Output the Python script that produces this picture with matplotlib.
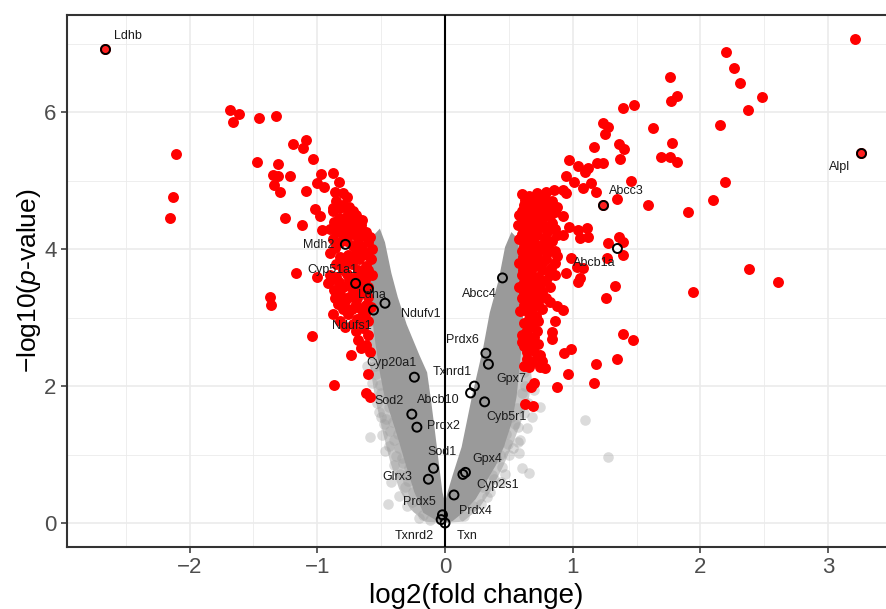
import matplotlib
matplotlib.use("Agg")
import matplotlib.pyplot as plt
from matplotlib.ticker import MultipleLocator

plt.rcParams['font.family'] = ['Liberation Sans', 'DejaVu Sans']
plt.rcParams['mathtext.fontset'] = 'custom'
plt.rcParams['mathtext.rm'] = 'Liberation Sans'
plt.rcParams['mathtext.it'] = 'Liberation Sans:italic'

# dense, non-significant genes (outline of the packed gray cloud)
left_arm_x = [0.0, -0.08, -0.17, -0.24, -0.31, -0.37, -0.43, -0.48, -0.52, -0.56, -0.58, -0.58,
              -0.56, -0.51, -0.47, -0.42, -0.37, -0.30, -0.20, -0.14, -0.11, -0.08, -0.05, -0.02, 0.0]
left_arm_y = [0.0, 0.05, 0.15, 0.45, 0.87, 1.25, 1.60, 1.90, 2.30, 2.82, 3.30, 3.90,
              4.20, 4.30, 4.10, 3.65, 3.30, 2.90, 2.45, 2.20, 1.80, 1.36, 0.90, 0.45, 0.30]
right_arm_x = [0.0, 0.02, 0.06, 0.13, 0.21, 0.30, 0.35, 0.42, 0.47, 0.52, 0.57, 0.60,
               0.61, 0.60, 0.58, 0.56, 0.52, 0.46, 0.40, 0.33, 0.24, 0.14, 0.06, 0.0]
right_arm_y = [0.30, 0.45, 0.70, 1.11, 1.84, 2.57, 3.07, 3.55, 4.03, 4.25, 4.15, 3.70,
               3.00, 2.57, 2.20, 1.84, 1.45, 1.11, 0.85, 0.63, 0.35, 0.15, 0.03, 0.0]

# sparser halo around the packed cloud
left_halo_x = [0.0, -0.16, -0.27, -0.36, -0.43, -0.49, -0.55, -0.59, -0.61, -0.61, -0.58,
               -0.52, -0.40, -0.25, -0.10, 0.0]
left_halo_y = [0.0, 0.02, 0.20, 0.50, 0.90, 1.35, 1.85, 2.35, 2.80, 3.40, 3.60,
               2.30, 1.50, 0.80, 0.30, 0.10]
right_halo_x = [0.0, 0.14, 0.26, 0.37, 0.46, 0.54, 0.61, 0.66, 0.68, 0.66, 0.62, 0.60,
                0.52, 0.38, 0.20, 0.0]
right_halo_y = [0.0, 0.02, 0.20, 0.50, 0.85, 1.20, 1.55, 1.85, 2.10, 2.45, 2.80, 3.20,
                1.70, 1.00, 0.40, 0.10]

# scattered non-significant genes
gray_x = [-0.59, -0.45, -0.17, -0.36, -0.55, -0.57, -0.61, -0.58, -0.52, -0.48, -0.44, -0.40,
          -0.31, -0.35, -0.26, -0.50, -0.46, -0.40, -0.49, -0.38, -0.29, -0.22, -0.54, -0.56,
          -0.53, -0.43, -0.33, -0.12, -0.20, -0.30, -0.56, -0.59, -0.44, -0.36, -0.28, -0.51,
          -0.47, -0.42, -0.34, -0.25, -0.41, -0.50, -0.55, -0.37, -0.30, -0.45,
          0.74, 1.10, 1.28, 0.60, 0.66, 0.57, 0.59, 0.42, 0.64, 0.28, 0.37, 0.45, 0.62, 0.68,
          0.55, 0.50, 0.44, 0.35, 0.63, 0.62, 0.56, 0.48, 0.40, 0.30, 0.22, 0.15, 0.53, 0.60,
          0.65, 0.47, 0.33, 0.58, 0.52, 0.43, 0.38, 0.57, 0.49, 0.64, 0.70]
gray_y = [1.26, 0.28, 0.12, 0.40, 2.63, 2.04, 2.30, 2.95, 1.62, 1.45, 1.12, 0.85,
          0.52, 0.72, 0.30, 1.90, 1.52, 1.22, 1.28, 0.98, 0.62, 0.22, 2.18, 2.45,
          1.75, 1.35, 0.88, 0.05, 0.08, 0.25, 3.10, 3.40, 1.70, 1.10, 0.80, 2.02,
          1.05, 0.60, 0.95, 0.45, 1.48, 1.55, 2.30, 1.30, 0.70, 1.85,
          1.69, 1.50, 0.96, 0.80, 0.73, 1.18, 1.22, 1.16, 1.39, 0.28, 0.70, 0.82, 1.60, 1.55,
          1.45, 1.00, 0.60, 0.45, 2.00, 2.20, 1.68, 1.30, 0.95, 0.52, 0.25, 0.10, 1.10, 1.90,
          1.75, 0.72, 0.38, 1.02, 1.55, 1.00, 0.65, 1.40, 1.15, 2.40, 1.95]

# significant genes
red_x = [-2.66, -1.68, -1.61, -1.66, -1.46, -1.32, -2.11, -2.13, -2.15, -1.09, -1.19, -1.11,
         -1.47, -1.31, -1.03, -1.35, -1.31, -1.21, -1.34, -1.29, -0.97, -0.88, -1.00, -0.95,
         -1.09, -0.83, -0.86, -0.80, -0.77, -1.02, -0.98, -1.25, -1.12, -0.96, -0.88,
         -1.17, -1.00, -1.37, -1.36, -1.04, -0.74, -0.87, -0.60, -0.62, -0.59,
         -0.75, -0.68, -0.60, -0.78,
         -0.85, -0.80, -0.75, -0.70, -0.88, -0.83, -0.78, -0.72, -0.66, -0.62, -0.90, -0.85,
         -0.80, -0.74, -0.68, -0.60, -0.57, -0.64, -0.70, -0.76, -0.82, -0.86, -0.90, -0.58,
         -0.62, -0.68, -0.73, -0.80, -0.85, -0.90, -0.57, -0.63, -0.75, -0.80, -0.87, -0.92,
         -0.66, -0.72, -0.60, -0.78, -0.84, -0.70, -0.62, -0.88, -0.76, -0.66, -0.60, -0.72,
         -0.82, -0.75, -0.72,
         -0.82, -0.77, -0.71, -0.65, -0.87, -0.83, -0.76, -0.70, -0.64, -0.59, -0.88, -0.82,
         -0.77, -0.72, -0.66, -0.61, -0.67, -0.73, -0.79, -0.85, -0.60, -0.65, -0.70, -0.77,
         -0.83, -0.89, -0.60, -0.68, -0.74, -0.82, -0.63, -0.69, -0.75, -0.86, -0.58, -0.66,
         -0.73, -0.80, -0.63, -0.69, -0.64, -0.70, -0.62, -0.66, -0.59,
         3.21, 3.26, 2.20, 2.26, 2.31, 2.48, 2.37, 1.76, 1.77, 1.82, 1.39, 1.48, 1.63, 2.15,
         1.78, 1.24, 1.28, 1.25, 1.17, 1.36, 1.40, 1.37, 1.69, 1.76, 1.82, 2.19, 2.10, 1.90,
         1.59, 1.24, 1.35, 1.46, 0.97, 1.04, 1.10, 1.12, 1.19, 1.24, 0.95, 1.01, 1.08, 1.14,
         1.18, 0.79, 0.85, 0.92, 0.95, 0.92, 0.97, 1.04, 1.11, 1.06, 1.12, 0.92, 1.36, 1.39,
         1.28, 1.39, 1.27, 0.99, 1.03, 0.95, 1.06, 1.08, 2.38, 2.61, 1.94, 1.33, 1.26, 1.04,
         0.82, 0.88, 0.92, 0.86, 0.84, 0.84, 1.39, 1.47, 0.99, 0.93, 1.35, 1.18, 0.96, 1.17,
         0.88,
         0.60, 0.66, 0.72, 0.78, 0.84, 0.62, 0.68, 0.74, 0.80, 0.88, 0.58, 0.64, 0.70, 0.76,
         0.82, 0.57, 0.62, 0.68, 0.74, 0.80, 0.86, 0.58, 0.64, 0.70, 0.77, 0.84, 0.60, 0.66,
         0.72, 0.80, 0.88, 0.58, 0.64, 0.70, 0.76, 0.83, 0.60, 0.66, 0.73, 0.79, 0.86, 0.58,
         0.64, 0.70, 0.76, 0.60, 0.67, 0.73, 0.79, 0.59, 0.65, 0.71, 0.62, 0.68, 0.60, 0.66,
         0.72, 0.62, 0.69, 0.64, 0.72, 0.66, 0.74, 0.78, 0.76, 0.74, 0.67, 0.70, 0.63, 0.69,
         0.63, 0.69, 0.75, 0.81, 0.60, 0.66, 0.72, 0.78, 0.86, 0.60, 0.66, 0.72, 0.78, 0.84,
         0.60, 0.66, 0.72, 0.78, 0.88, 0.62, 0.68, 0.74, 0.81, 0.86, 0.61, 0.67, 0.73, 0.79,
         0.86, 0.61, 0.67, 0.76, 0.82, 0.62, 0.68, 0.74, 0.82, 0.62, 0.68, 0.74, 0.62, 0.69,
         0.76, 0.66, 0.73, 0.64, 0.70, 0.60, 0.66, 0.73, 0.64, 0.68, 0.62]
red_y = [6.92, 6.03, 5.97, 5.85, 5.91, 5.94, 5.39, 4.76, 4.45, 5.60, 5.53, 5.48,
         5.28, 5.25, 5.31, 5.08, 5.07, 5.07, 4.93, 4.83, 5.10, 5.11, 4.96, 4.91,
         4.85, 4.98, 4.83, 4.82, 4.76, 4.58, 4.48, 4.45, 4.36, 4.28, 4.60,
         3.65, 3.59, 3.30, 3.18, 2.73, 2.45, 2.01, 2.18, 1.90, 1.84,
         3.11, 2.67, 2.74, 2.86,
         4.70, 4.65, 4.55, 4.50, 4.55, 4.45, 4.40, 4.38, 4.35, 4.25, 4.30, 4.25,
         4.20, 4.22, 4.15, 4.10, 4.00, 3.98, 3.95, 3.92, 3.88, 4.02, 3.95, 3.85,
         3.75, 3.70, 3.78, 3.70, 3.60, 3.62, 3.62, 3.55, 3.55, 3.45, 3.40, 3.50,
         3.40, 3.35, 3.30, 3.25, 3.20, 3.20, 3.18, 3.05, 3.05, 3.00, 2.95, 2.90,
         2.95, 4.62, 4.55,
         4.60, 4.48, 4.45, 4.42, 4.40, 4.33, 4.30, 4.28, 4.20, 4.18, 4.15, 4.10,
         4.12, 4.05, 4.05, 3.92, 3.85, 3.86, 3.82, 3.78, 3.70, 3.64, 3.60, 3.63,
         3.52, 3.55, 3.45, 3.50, 3.45, 3.35, 3.38, 3.28, 3.30, 3.28, 3.15, 3.12,
         3.12, 3.12, 3.05, 2.98, 2.85, 2.80, 2.60, 2.55, 2.50,
         7.07, 5.40, 6.88, 6.64, 6.43, 6.22, 6.03, 6.51, 6.16, 6.23, 6.06, 6.11, 5.77, 5.82,
         5.55, 5.84, 5.78, 5.68, 5.49, 5.53, 5.47, 5.31, 5.34, 5.34, 5.28, 4.98, 4.72, 4.54,
         4.65, 4.65, 4.73, 5.00, 5.30, 5.21, 5.12, 5.18, 5.26, 5.26, 5.07, 4.98, 4.89, 4.96,
         4.83, 4.83, 4.86, 4.86, 4.82, 4.48, 4.32, 4.28, 4.31, 4.16, 4.18, 4.20, 4.18, 4.10,
         4.09, 3.91, 3.87, 3.87, 3.74, 3.65, 3.58, 3.72, 3.71, 3.52, 3.37, 3.46, 3.28, 3.52,
         3.23, 3.17, 3.11, 2.95, 2.79, 2.69, 2.76, 2.67, 2.54, 2.48, 2.39, 2.33, 2.17, 2.04,
         1.99,
         4.80, 4.78, 4.82, 4.75, 4.70, 4.65, 4.60, 4.62, 4.58, 4.62, 4.50, 4.48, 4.45, 4.42,
         4.48, 4.35, 4.30, 4.28, 4.32, 4.25, 4.30, 4.15, 4.12, 4.10, 4.08, 4.12, 3.98, 3.95,
         3.92, 3.95, 3.90, 3.80, 3.78, 3.75, 3.80, 3.72, 3.62, 3.58, 3.60, 3.55, 3.62, 3.45,
         3.42, 3.40, 3.38, 3.28, 3.25, 3.20, 3.28, 3.10, 3.08, 3.02, 2.92, 2.88, 2.75, 2.70,
         2.80, 2.58, 2.52, 2.40, 2.45, 2.28, 2.28, 2.26, 2.37, 2.46, 1.99, 2.04, 1.74, 1.71,
         4.72, 4.70, 4.70, 4.66, 4.56, 4.54, 4.53, 4.50, 4.54, 4.40, 4.38, 4.38, 4.34, 4.38,
         4.22, 4.20, 4.20, 4.17, 4.20, 4.05, 4.02, 4.00, 4.03, 3.98, 3.88, 3.86, 3.84, 3.86,
         3.80, 3.70, 3.68, 3.70, 3.62, 3.52, 3.50, 3.48, 3.45, 3.36, 3.33, 3.30, 3.18, 3.15,
         3.12, 2.98, 2.95, 2.82, 2.72, 2.65, 2.62, 2.62, 2.50, 2.35, 2.30]

# labelled genes: point position, label position
genes = ['Ldhb', 'Alpl', 'Abcc3', 'Abcb1a', 'Abcc4', 'Mdh2', 'Cyp51a1', 'Ldha', 'Ndufv1',
         'Ndufs1', 'Cyp20a1', 'Sod2', 'Abcb10', 'Prdx2', 'Sod1', 'Glrx3', 'Prdx5', 'Txnrd2',
         'Txn', 'Prdx6', 'Txnrd1', 'Gpx7', 'Cyb5r1', 'Gpx4', 'Cyp2s1', 'Prdx4']
gene_x = [-2.66, 3.26, 1.24, 1.35, 0.45, -0.78, -0.70, -0.60, -0.47, -0.56, -0.24, -0.26,
          0.20, -0.22, -0.09, -0.13, -0.02, -0.03, 0.0, 0.32, 0.34, 0.23, 0.31, 0.16, 0.14, 0.07]
gene_y = [6.92, 5.40, 4.65, 4.01, 3.58, 4.07, 3.50, 3.42, 3.21, 3.11, 2.13, 1.59,
          1.90, 1.40, 0.80, 0.64, 0.12, 0.05, 0.0, 2.48, 2.32, 2.00, 1.77, 0.74, 0.71, 0.41]
gene_sig = ['Ldhb', 'Alpl', 'Abcc3']
label_x = [-2.48, 3.09, 1.42, 1.17, 0.27, -0.99, -0.88, -0.57, -0.19, -0.73, -0.42, -0.44,
           -0.05, -0.01, -0.02, -0.37, -0.20, -0.24, 0.17, 0.14, 0.06, 0.52, 0.48, 0.33, 0.41, 0.24]
label_y = [7.11, 5.20, 4.85, 3.80, 3.35, 4.06, 3.69, 3.33, 3.06, 2.88, 2.34, 1.78,
           1.80, 1.41, 1.04, 0.67, 0.30, -0.19, -0.19, 2.68, 2.21, 2.10, 1.55, 0.94, 0.55, 0.18]

fig = plt.figure(figsize=(8.86, 6.09), dpi=100)
ax = fig.add_axes([0.0756, 0.1018, 0.9244, 0.8736])

ax.fill(left_halo_x, left_halo_y, color='#c9c9c9', lw=0, zorder=2)
ax.fill(right_halo_x, right_halo_y, color='#c9c9c9', lw=0, zorder=2)
ax.scatter(gray_x, gray_y, s=58, color='#999999', alpha=0.35, lw=0, zorder=2)
ax.fill(left_arm_x, left_arm_y, color='#9a9a9a', lw=0, zorder=2)
ax.fill(right_arm_x, right_arm_y, color='#9a9a9a', lw=0, zorder=2)
ax.axvline(0, color='black', lw=1.5, zorder=3)
ax.scatter(red_x, red_y, s=62, color='#ff0000', lw=0, zorder=4)

for g, gx, gy, lx, ly in zip(genes, gene_x, gene_y, label_x, label_y):
    face = '#ff2020' if g in gene_sig else 'none'
    ax.scatter([gx], [gy], s=42, facecolors=face, edgecolors='black', linewidths=1.4, zorder=5)
    ax.text(lx, ly, g, fontsize=9, color='#1a1a1a', ha='center', va='center', zorder=6)

ax.set_xlim(-2.96, 3.453)
ax.set_ylim(-0.35, 7.42)
ax.xaxis.set_major_locator(MultipleLocator(1))
ax.xaxis.set_minor_locator(MultipleLocator(0.5))
ax.yaxis.set_major_locator(MultipleLocator(2))
ax.yaxis.set_minor_locator(MultipleLocator(1))
ax.set_xticks([-2, -1, 0, 1, 2, 3])
ax.set_xticklabels(['\u22122', '\u22121', '0', '1', '2', '3'])
ax.grid(which='major', color='#ebebeb', lw=1.2, zorder=0)
ax.grid(which='minor', color='#ebebeb', lw=0.6, zorder=0)
ax.set_axisbelow(True)
ax.tick_params(which='major', length=4, width=1.1, color='#333333',
               labelsize=16, labelcolor='#4d4d4d')
ax.tick_params(which='minor', length=0)
for side in ['left', 'bottom', 'top']:
    ax.spines[side].set_color('#333333')
    ax.spines[side].set_linewidth(1.5)
ax.spines['right'].set_visible(False)

ax.set_xlabel('log2(fold change)', fontsize=20, labelpad=3)
ax.set_ylabel('\u2212log10($\\mathit{p}$-value)', fontsize=19, labelpad=1)

fig.savefig('out.png', dpi=100)
